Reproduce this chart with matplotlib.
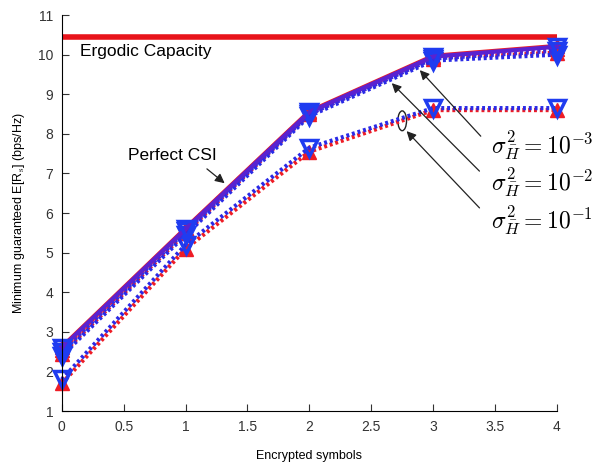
import numpy as np
import matplotlib
matplotlib.use('Agg')
import matplotlib.pyplot as plt
from matplotlib.patches import Ellipse

plt.rcParams['font.family'] = ['Liberation Sans', 'DejaVu Sans']
plt.rcParams['mathtext.fontset'] = 'cm'

symbols = [0, 1, 2, 3, 4]
ergodic_capacity = 10.45

# red (up triangles) and blue (down triangles) curves per CSI case
perfect_red = [2.62, 5.62, 8.57, 9.97, 10.22]
perfect_blue = [2.6, 5.6, 8.55, 9.95, 10.2]
var3_red = [2.55, 5.6, 8.55, 9.95, 10.15]
var3_blue = [2.5, 5.55, 8.5, 9.9, 10.1]
var2_red = [2.45, 5.5, 8.5, 9.9, 10.05]
var2_blue = [2.4, 5.45, 8.45, 9.85, 10.0]
var1_red = [1.7, 5.1, 7.55, 8.6, 8.6]
var1_blue = [1.8, 5.2, 7.65, 8.65, 8.65]

fig = plt.figure(figsize=(6.06, 4.62), dpi=100)
ax = fig.add_axes([0.102, 0.110, 0.817, 0.8575])

ax.plot([0, 4], [ergodic_capacity, ergodic_capacity], color='#e8141b', lw=4, solid_capstyle='butt')

red_kw = dict(marker='^', ms=10, mfc='#ee1c25', mec='#ee1c25', color='#ee1c25', clip_on=False)
blue_kw = dict(marker='v', ms=12, mfc='none', mec='#1f3cf0', mew=2.5, clip_on=False)
dots = (0, (0.7, 0.7))

cases = [(var1_red, var1_blue, dots, '#2a2ae6'),
         (var2_red, var2_blue, dots, '#2a2ae6'),
         (var3_red, var3_blue, dots, '#3a2ae0'),
         (perfect_red, perfect_blue, '-', '#5a22d0')]
for r, b, ls, bc in cases:
    ax.plot(symbols, r, ls=ls, lw=3, **red_kw)
for r, b, ls, bc in cases:
    ax.plot(symbols, b, ls=ls, lw=3, color=bc, **blue_kw)

ax.set_xlim(0, 4)
ax.set_ylim(1, 11)
ax.set_xticks(np.arange(0, 4.01, 0.5))
ax.set_xticklabels(['0', '0.5', '1', '1.5', '2', '2.5', '3', '3.5', '4'])
ax.set_yticks(range(1, 12))
ax.tick_params(direction='in', length=5, labelsize=10, colors='#333333', pad=6)
for s in ['top', 'right']:
    ax.spines[s].set_visible(False)
ax.set_xlabel('Encrypted symbols', fontsize=9, labelpad=12)
ax.set_ylabel('Minimum guaranteed E[R$_\\mathrm{s}$] (bps/Hz)', fontsize=9, labelpad=8)

ax.text(0.145, 10.07, 'Ergodic Capacity', fontsize=12.5, va='center', ha='left')
ax.text(0.89, 7.46, 'Perfect CSI', fontsize=12.5, va='center', ha='center')
arrow = dict(arrowstyle='-|>', color='#222222', lw=0.9, mutation_scale=14)
ax.annotate('', xy=(1.333, 6.71), xytext=(1.155, 7.16), arrowprops=arrow)

labels = [r'$\sigma_{\bar{H}}^2 = 10^{-3}$', r'$\sigma_{\bar{H}}^2 = 10^{-2}$',
          r'$\sigma_{\bar{H}}^2 = 10^{-1}$']
label_y = [7.72, 6.78, 5.82]
heads = [(2.877, 9.66), (2.65, 9.33), (2.77, 8.12)]
tails = [(3.40, 7.89), (3.39, 7.01), (3.39, 6.08)]
for lab, ly, h, t in zip(labels, label_y, heads, tails):
    ax.text(3.47, ly, lab, fontsize=17, va='center', ha='left', clip_on=False)
    ax.annotate('', xy=h, xytext=t, arrowprops=arrow, annotation_clip=False)

ax.add_patch(Ellipse((2.75, 8.33), 0.07, 0.5, fill=False, ec='#222222', lw=1))

fig.savefig('out.png', dpi=100)
